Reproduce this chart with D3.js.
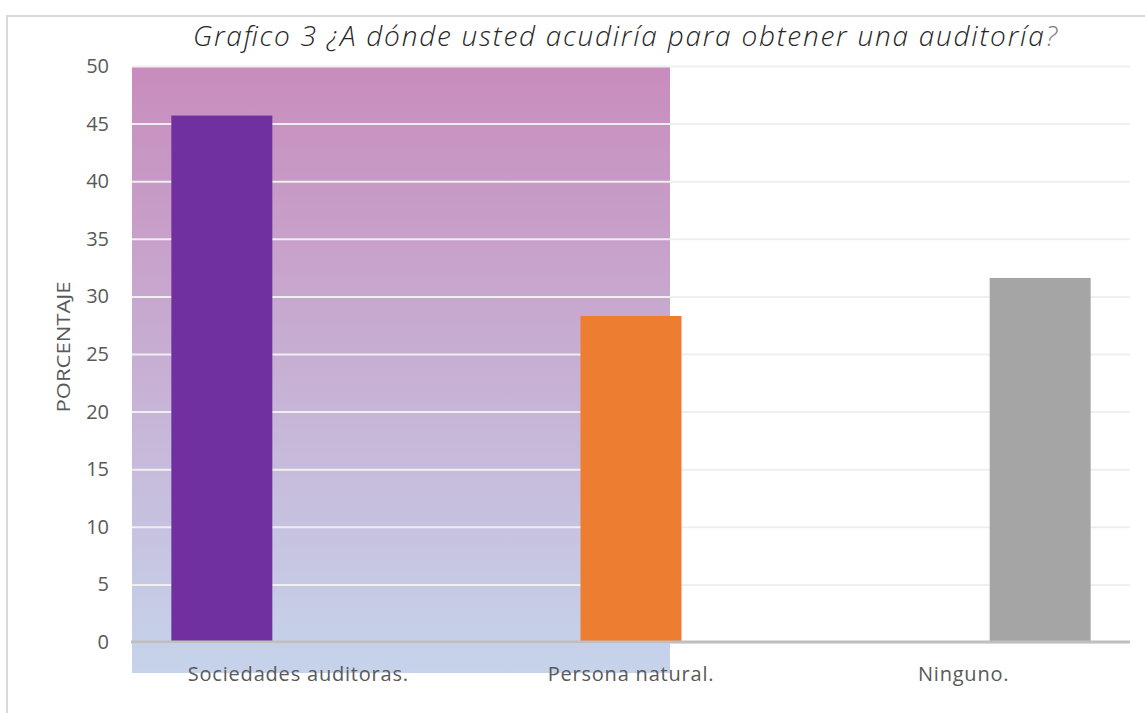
<!DOCTYPE html>
<html>
<head>
<meta charset="utf-8">
<script src="https://cdn.jsdelivr.net/npm/d3@7"></script>
<style>
  html, body { margin: 0; padding: 0; background: #fff; }
  svg { display: block; }
  text { font-family: "Open Sans", "Liberation Sans", sans-serif; }
</style>
</head>
<body>
<div id="chart"></div>
<script>
/* ---------- data ---------- */
const categories = ['Sociedades auditoras.', 'Persona natural.', 'Ninguno.'];
const seriesNames = ['Sociedades', 'Persona', 'Ninguno'];
const sociedadesValues = [45.7, 0, 0];
const personaValues = [0, 28.3, 0];
const ningunoValues = [0, 0, 31.6];
const yTicks = [0, 5, 10, 15, 20, 25, 30, 35, 40, 45, 50];
const titleText = 'Grafico 3 ¿A dónde usted acudiría para obtener una auditoría';
const yTitle = 'PORCENTAJE';

const seriesColors = { Sociedades: '#7030a0', Persona: '#ed7d31', Ninguno: '#a5a5a5' };
const series = [
  { name: 'Sociedades', values: sociedadesValues },
  { name: 'Persona', values: personaValues },
  { name: 'Ninguno', values: ningunoValues }
];

/* ---------- layout ---------- */
const W = 1145, H = 713;
const plot = { left: 132, right: 1130, top: 66, bottom: 642 };

const svg = d3.select('#chart').append('svg').attr('width', W).attr('height', H);

// outer chart border
svg.append('rect')
  .attr('x', 7).attr('y', 16)
  .attr('width', W + 20).attr('height', H + 20)
  .attr('fill', '#fff')
  .attr('stroke', '#d9d9d9')
  .attr('stroke-width', 2);

const x0 = d3.scaleBand().domain(categories).range([plot.left, plot.right]);
const x1 = d3.scalePoint().domain(seriesNames).range([-76.5, 76.5]);
const barW = 101;
const y = d3.scaleLinear().domain([0, 50]).range([plot.bottom, plot.top]);

/* ---------- gradient panel ---------- */
const defs = svg.append('defs');
const grad = defs.append('linearGradient')
  .attr('id', 'bg-grad')
  .attr('x1', 0).attr('y1', 0).attr('x2', 0).attr('y2', 1);
grad.append('stop').attr('offset', '0%').attr('stop-color', '#c88cbd');
grad.append('stop').attr('offset', '100%').attr('stop-color', '#c6d3eb');

svg.append('rect')
  .attr('x', plot.left)
  .attr('y', plot.top)
  .attr('width', 538)
  .attr('height', 607)
  .attr('fill', 'url(#bg-grad)');

/* ---------- y axis + grid ---------- */
const yAxis = svg.append('g')
  .attr('transform', `translate(${plot.left},0)`)
  .call(d3.axisLeft(y)
    .tickValues(yTicks)
    .tickSize(-(plot.right - plot.left))
    .tickPadding(23));
yAxis.select('.domain').remove();
yAxis.selectAll('line')
  .attr('stroke', '#efefef')
  .attr('stroke-width', 2);
yAxis.selectAll('text')
  .attr('fill', '#595959')
  .style('font-size', '20px');

svg.append('text')
  .attr('transform', 'rotate(-90)')
  .attr('x', -347)
  .attr('y', 70)
  .attr('text-anchor', 'middle')
  .attr('fill', '#595959')
  .attr('textLength', 131)
  .attr('lengthAdjust', 'spacingAndGlyphs')
  .style('font-size', '19px')
  .text(yTitle);

/* ---------- bars ---------- */
series.forEach(s => {
  svg.append('g')
    .selectAll('rect')
    .data(s.values.map((v, i) => ({ cat: categories[i], v })))
    .enter()
    .append('rect')
    .attr('x', d => x0(d.cat) + x0.bandwidth() / 2 + x1(s.name) - barW / 2)
    .attr('y', d => y(d.v))
    .attr('width', barW)
    .attr('height', d => y(0) - y(d.v))
    .attr('fill', seriesColors[s.name]);
});

/* ---------- x axis ---------- */
svg.append('line')
  .attr('x1', plot.left - 1)
  .attr('x2', plot.right)
  .attr('y1', y(0))
  .attr('y2', y(0))
  .attr('stroke', '#bfbfbf')
  .attr('stroke-width', 3);

svg.append('g')
  .selectAll('text')
  .data(categories)
  .enter()
  .append('text')
  .attr('x', d => x0(d) + x0.bandwidth() / 2)
  .attr('y', 681)
  .attr('text-anchor', 'middle')
  .attr('fill', '#595959')
  .style('font-size', '20px')
  .style('letter-spacing', '0.8px')
  .text(d => d);

/* ---------- title ---------- */
const title = svg.append('text')
  .attr('x', 625)
  .attr('y', 46)
  .attr('text-anchor', 'middle')
  .attr('fill', '#262626')
  .attr('textLength', 864)
  .attr('lengthAdjust', 'spacing')
  .style('font-size', '28px')
  .style('font-style', 'italic')
  .style('font-weight', 300);
title.append('tspan').text(titleText);
title.append('tspan').attr('fill', '#7f7f7f').text('?');
</script>
</body>
</html>
